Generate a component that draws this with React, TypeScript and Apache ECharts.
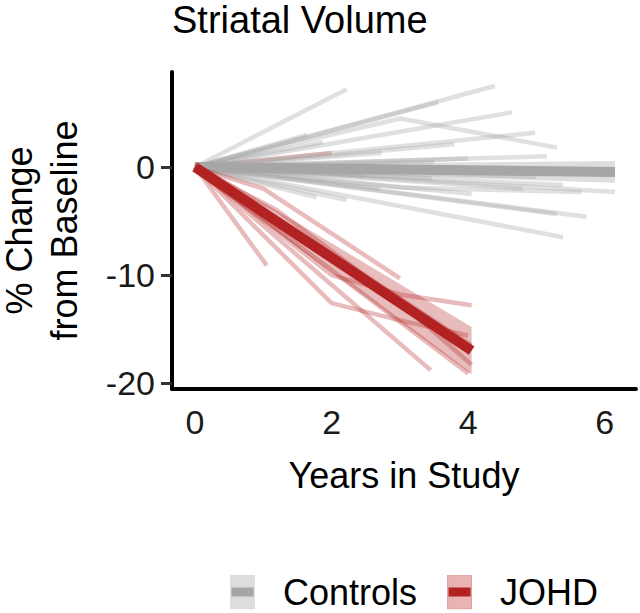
import React, { useEffect, useRef } from "react";
import * as echarts from "echarts";

const FONT = "'Liberation Sans', Arial, sans-serif";

const xTicks = [0, 2, 4, 6];
const yTicks = [-20, -10, 0];

// individual control trajectories: [years, % change]
const controlLines: number[][][] = [
  [[0, 0], [2.22, 7.2]],
  [[0, 0], [3.56, 6.0]],
  [[0, 0], [4.39, 7.5]],
  [[0, 0], [4.64, 5.06]],
  [[0, 0], [3.0, 4.5], [5.3, 1.8]],
  [[0, 0], [4.98, 3.18]],
  [[0, 0], [5.15, 1.0]],
  [[0, 0], [3.8, 2.1]],
  [[0, 0], [2.73, 1.3]],
  [[0, 0], [1.87, 2.3]],
  [[0, 0], [1.64, 3.0]],
  [[0, 0], [6.15, -2.3]],
  [[0, 0], [3.0, -1.9], [5.66, -2.3]],
  [[0, 0], [4.05, -2.5]],
  [[0, 0], [5.73, -4.6]],
  [[0, 0], [5.3, -4.35]],
  [[0, 0], [5.39, -6.5]],
  [[0, 0], [5.39, -1.67]],
  [[0, 0], [4.8, -2.0]],
  [[0, 0], [1.78, -2.8]],
  [[0, 0], [2.22, -3.05]],
  [[0, 0], [3.47, -1.05]],
  [[0, 0], [2.7, -2.0]],
  [[0, 0], [4.0, 0.8]],
  [[0, 0], [2.5, -0.8]],
  [[0, 0], [3.5, 0.5]],
  [[0, 0], [5.0, -0.9]],
];

// individual JOHD trajectories
const johdLines: number[][][] = [
  [[0, 0], [1.05, -9.1]],
  [[0, 0], [1.0, -2.0], [3.0, -10.3]],
  [[0, 0], [2.0, -10.0], [3.0, -11.8], [4.05, -12.8]],
  [[0, 0], [2.0, -12.6], [3.0, -14.2], [4.0, -15.6]],
  [[0, 0], [3.45, -18.8]],
  [[0, 0], [4.0, -19.1]],
  [[0, 0], [2.0, -8.0], [4.05, -16.5]],
  [[0, 0], [1.2, -4.0], [3.0, -12.5], [4.05, -18.3]],
  [[0, 0], [2.0, 1.3]],
];

const controlMean = [[0, 0], [6.15, -0.45]];
const johdMean = [[0, 0], [4.05, -17.0]];

// confidence ribbons: [years, lower, upper]
const controlBand = [[0, -0.25, 0.25], [6.15, -1.45, 0.55]];
const johdBand = [[0, -0.5, 0.5], [4.05, -19.2, -14.8]];

const legendNames = ["Controls", "JOHD"];

const svgUri = (svg: string) =>
  "image://data:image/svg+xml;charset=utf-8," + encodeURIComponent(svg);

const controlIcon = svgUri(
  "<svg xmlns='http://www.w3.org/2000/svg' width='48' height='35'><rect x='0' y='0' width='25' height='35' fill='#dddddd'/><rect x='1.5' y='13' width='22' height='9' fill='#a6a6a6'/></svg>"
);
const johdIcon = svgUri(
  "<svg xmlns='http://www.w3.org/2000/svg' width='48' height='35'><rect x='0.5' y='0.5' width='24' height='34' fill='#e8b3b3' stroke='#dc9f9f' stroke-width='1'/><rect x='1.5' y='13' width='22' height='9' fill='#b22222'/></svg>"
);

function bandSeries(name: string, band: number[][], color: string, z: number) {
  return {
    type: "custom",
    name,
    silent: true,
    z,
    data: band,
    encode: { x: 0, y: [1, 2] },
    renderItem: (params: any, api: any) => {
      if (params.dataIndex !== 0) return null;
      const upper = band.map((p) => api.coord([p[0], p[2]]));
      const lower = band
        .slice()
        .reverse()
        .map((p) => api.coord([p[0], p[1]]));
      return {
        type: "polygon",
        shape: { points: upper.concat(lower) },
        style: { fill: color },
      };
    },
  };
}

export default function App() {
  const ref = useRef<HTMLDivElement>(null);
  useEffect(() => {
    document.body.style.margin = "0";
    const chart = echarts.init(ref.current!, null, { renderer: "svg" });
    const series: any[] = [];
    controlLines.forEach((d, i) =>
      series.push({
        type: "line",
        name: "Control " + (i + 1),
        data: d,
        showSymbol: false,
        silent: true,
        z: 2,
        lineStyle: { width: 4.5, color: "rgba(165,165,165,0.35)", cap: "butt" },
      })
    );
    series.push(bandSeries("Controls ribbon", controlBand, "rgba(160,160,160,0.35)", 3));
    series.push({
      type: "line",
      name: "Controls",
      data: controlMean,
      showSymbol: false,
      silent: true,
      z: 4,
      color: "#a6a6a6",
      lineStyle: { width: 10, color: "#a6a6a6", cap: "butt" },
    });
    johdLines.forEach((d, i) =>
      series.push({
        type: "line",
        name: "JOHD " + (i + 1),
        data: d,
        showSymbol: false,
        silent: true,
        z: d[d.length - 1][1] > 0 ? 1 : 5,
        lineStyle: { width: 4.5, color: "rgba(178,34,34,0.3)", cap: "butt" },
      })
    );
    series.push(bandSeries("JOHD ribbon", johdBand, "rgba(178,34,34,0.3)", 6));
    series.push({
      type: "line",
      name: "JOHD",
      data: johdMean,
      showSymbol: false,
      silent: true,
      z: 7,
      color: "#b22222",
      lineStyle: { width: 10, color: "#b22222", cap: "butt" },
    });

    chart.setOption({
      animation: false,
      textStyle: { fontFamily: FONT },
      title: {
        text: "Striatal Volume",
        left: 172,
        top: 1,
        padding: 0,
        textStyle: { fontFamily: FONT, fontSize: 38, fontWeight: "normal", color: "#000" },
      },
      legend: {
        data: [
          { name: legendNames[0], icon: controlIcon },
          { name: legendNames[1], icon: johdIcon },
        ],
        left: 230,
        top: 574,
        itemWidth: 48,
        itemHeight: 35,
        itemGap: 30,
        selectedMode: false,
        padding: 0,
        textStyle: { fontFamily: FONT, fontSize: 36, color: "#000" },
      },
      grid: {
        left: 172,
        right: 4,
        top: 72,
        bottom: 224,
        containLabel: false,
        outerBoundsMode: "none",
      },
      xAxis: {
        type: "value",
        min: -0.337,
        max: 6.457,
        name: "Years in Study",
        nameLocation: "middle",
        nameGap: 68,
        nameTextStyle: { fontFamily: FONT, fontSize: 36, color: "#000" },
        splitLine: { show: false },
        axisLine: { show: true, onZero: false, lineStyle: { color: "#000", width: 4 } },
        axisTick: { show: false },
        axisLabel: {
          customValues: xTicks,
          margin: 16,
          fontFamily: FONT,
          fontSize: 34,
          color: "#1a1a1a",
        },
      },
      yAxis: {
        type: "value",
        min: -20.55,
        max: 8.8,
        name: "% Change\nfrom Baseline",
        nameLocation: "middle",
        nameRotate: 90,
        nameGap: 85,
        nameTextStyle: { fontFamily: FONT, fontSize: 36, lineHeight: 45, color: "#000" },
        splitLine: { show: false },
        axisLine: { show: true, onZero: false, lineStyle: { color: "#000", width: 4 } },
        axisTick: {
          show: true,
          customValues: yTicks,
          length: 11,
          lineStyle: { color: "#333", width: 3 },
        },
        axisLabel: {
          customValues: yTicks,
          margin: 17,
          fontFamily: FONT,
          fontSize: 34,
          color: "#1a1a1a",
        },
      },
      series,
    });
    return () => chart.dispose();
  }, []);
  return <div ref={ref} style={{ width: 640, height: 613 }} />;
}
